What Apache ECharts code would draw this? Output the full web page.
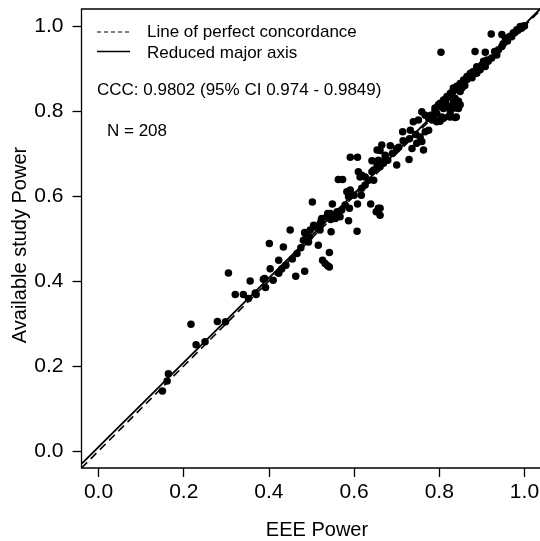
<!DOCTYPE html>
<html><head><meta charset="utf-8">
<script src="https://cdn.jsdelivr.net/npm/echarts@6/dist/echarts.min.js"></script>
<style>html,body{margin:0;padding:0;background:#fff}#c{width:540px;height:541px}</style>
</head><body><div id="c"></div>
<script>
const eeePower = [0.150,0.161,0.164,0.217,0.229,0.250,0.279,0.298,0.305,0.321,0.340,0.352,0.356,0.370,0.368,0.387,0.392,0.401,0.403,0.410,0.390,0.423,0.423,0.434,0.440,0.450,0.463,0.466,0.484,0.484,0.493,0.495,0.481,0.485,0.497,0.502,0.505,0.509,0.516,0.520,0.523,0.524,0.526,0.532,0.538,0.542,0.536,0.538,0.542,0.544,0.546,0.549,0.556,0.560,0.455,0.475,0.430,0.563,0.573,0.567,0.571,0.579,0.583,0.591,0.587,0.589,0.591,0.608,0.607,0.608,0.610,0.617,0.618,0.614,0.626,0.634,0.639,0.642,0.646,0.642,0.646,0.652,0.657,0.661,0.661,0.654,0.654,0.657,0.661,0.661,0.665,0.669,0.673,0.673,0.679,0.685,0.700,0.714,0.715,0.729,0.736,0.732,0.587,0.600,0.618,0.626,0.690,0.700,0.705,0.747,0.759,0.755,0.767,0.775,0.763,0.739,0.751,0.759,0.767,0.775,0.786,0.794,0.806,0.802,0.826,0.840,0.783,0.780,0.794,0.790,0.798,0.806,0.810,0.814,0.818,0.822,0.826,0.830,0.833,0.833,0.841,0.841,0.849,0.853,0.849,0.857,0.857,0.865,0.865,0.873,0.873,0.877,0.880,0.888,0.888,0.896,0.900,0.810,0.822,0.833,0.841,0.845,0.837,0.845,0.849,0.837,0.826,0.822,0.837,0.810,0.802,0.802,0.804,0.884,0.908,0.922,0.947,0.904,0.908,0.915,0.923,0.935,0.939,0.947,0.955,0.966,0.974,0.982,0.990,0.998,0.960,0.970,0.978,0.985,0.993,1.000,0.995,0.950,0.930,0.912,0.520,0.545,0.560,0.790,0.815,0.860,0.745,0.730];
const availablePower = [0.141,0.165,0.182,0.298,0.250,0.257,0.305,0.304,0.419,0.368,0.368,0.359,0.400,0.368,0.372,0.404,0.385,0.488,0.429,0.402,0.406,0.449,0.418,0.480,0.437,0.520,0.411,0.465,0.423,0.514,0.492,0.504,0.496,0.512,0.520,0.586,0.531,0.527,0.484,0.535,0.543,0.547,0.449,0.441,0.436,0.433,0.551,0.559,0.467,0.559,0.516,0.581,0.547,0.563,0.452,0.478,0.428,0.639,0.639,0.551,0.567,0.579,0.610,0.614,0.542,0.571,0.691,0.691,0.517,0.581,0.657,0.602,0.649,0.645,0.645,0.637,0.581,0.657,0.637,0.683,0.661,0.563,0.571,0.555,0.571,0.673,0.708,0.684,0.669,0.707,0.720,0.677,0.696,0.688,0.684,0.718,0.673,0.751,0.730,0.686,0.712,0.755,0.598,0.602,0.618,0.626,0.700,0.712,0.715,0.724,0.728,0.739,0.751,0.755,0.708,0.775,0.779,0.798,0.790,0.783,0.786,0.775,0.786,0.779,0.786,0.786,0.779,0.790,0.795,0.807,0.815,0.819,0.826,0.827,0.834,0.834,0.842,0.842,0.849,0.854,0.857,0.858,0.846,0.854,0.865,0.866,0.873,0.874,0.881,0.885,0.889,0.878,0.893,0.889,0.904,0.897,0.908,0.806,0.810,0.818,0.822,0.806,0.830,0.823,0.815,0.807,0.799,0.787,0.785,0.783,0.776,0.818,0.938,0.940,0.938,0.981,0.980,0.917,0.905,0.917,0.925,0.932,0.944,0.952,0.972,0.976,0.984,0.991,0.999,1.000,0.965,0.975,0.985,0.990,0.995,1.000,0.998,0.958,0.940,0.920,0.520,0.545,0.555,0.800,0.820,0.860,0.745,0.735];
const tickValues = [0.0, 0.2, 0.4, 0.6, 0.8, 1.0];
const concordanceX = [-0.04, 1.04];
const concordanceY = [-0.04, 1.04];
const rmaX = [-0.04, 1.037];
const rmaY = [-0.0302, 1.04];
const legendLabels = ['Line of perfect concordance', 'Reduced major axis'];
const cccText = 'CCC: 0.9802 (95% CI 0.974 - 0.9849)';
const nText = 'N = 208';
const xTitle = 'EEE Power';
const yTitle = 'Available study Power';

const FONT = '"Liberation Sans", Arial, sans-serif';
const points = eeePower.map((x, i) => [x, availablePower[i]]);
const chart = echarts.init(document.getElementById('c'), null, {renderer: 'canvas'});

const lineSty = {color: '#000', width: 1.3};
const axisCommon = {
  type: 'value', min: -0.04, max: 1.04,
  splitLine: {show: false},
  axisLine: {show: false, onZero: false},
  axisTick: {show: true, length: 9, customValues: tickValues, lineStyle: lineSty},
  axisLabel: {customValues: tickValues, formatter: v => v.toFixed(1), color: '#000', fontSize: 21, fontFamily: FONT}
};

const L = 81.5, T = 9, W = 460, H = 459;
chart.setOption({
  animation: false,
  backgroundColor: '#fff',
  grid: {left: L, top: T, width: W, height: H, show: false, outerBoundsMode: 'none'},
  xAxis: Object.assign({}, axisCommon, {position: 'bottom', axisLabel: Object.assign({}, axisCommon.axisLabel, {margin: 14})}),
  yAxis: Object.assign({}, axisCommon, {position: 'left', axisLabel: Object.assign({}, axisCommon.axisLabel, {margin: 18})}),
  series: [
    {type: 'line', name: legendLabels[0], data: concordanceX.map((x, i) => [x, concordanceY[i]]), symbol: 'none', clip: false,
     lineStyle: {color: '#000', width: 1.6, type: [8, 5]}, z: 2},
    {type: 'line', name: legendLabels[1], data: rmaX.map((x, i) => [x, rmaY[i]]), symbol: 'none', clip: false,
     lineStyle: {color: '#000', width: 1.8}, z: 2},
    {type: 'scatter', data: points, symbol: 'circle', symbolSize: 7.5, itemStyle: {color: '#000', opacity: 1}, z: 3}
  ],
  graphic: [
    {type: 'polyline', shape: {points: [[L + W + 5, T], [L, T], [L, T + H], [L + W + 5, T + H]]}, style: {stroke: '#000', fill: null, lineWidth: 1.3}},
    {type: 'line', shape: {x1: 97, y1: 32, x2: 130, y2: 32}, style: {stroke: '#000', lineWidth: 1.2, lineDash: [4, 3]}},
    {type: 'line', shape: {x1: 97, y1: 51.5, x2: 130, y2: 51.5}, style: {stroke: '#000', lineWidth: 1.3}},
    {type: 'text', x: 147, y: 32, style: {text: legendLabels[0], font: '17px ' + FONT, fill: '#000', verticalAlign: 'middle'}},
    {type: 'text', x: 147, y: 53, style: {text: legendLabels[1], font: '17px ' + FONT, fill: '#000', verticalAlign: 'middle'}},
    {type: 'text', x: 97, y: 90, style: {text: cccText, font: '17px ' + FONT, fill: '#000', verticalAlign: 'middle'}},
    {type: 'text', x: 107, y: 131.5, style: {text: nText, font: '17px ' + FONT, fill: '#000', verticalAlign: 'middle'}},
    {type: 'text', x: 317, y: 530, style: {text: xTitle, font: '20px ' + FONT, fill: '#000', align: 'center', verticalAlign: 'middle'}},
    {type: 'text', x: 20, y: 245, rotation: Math.PI / 2, style: {text: yTitle, font: '20px ' + FONT, fill: '#000', align: 'center', verticalAlign: 'middle'}}
  ]
});
</script></body></html>
